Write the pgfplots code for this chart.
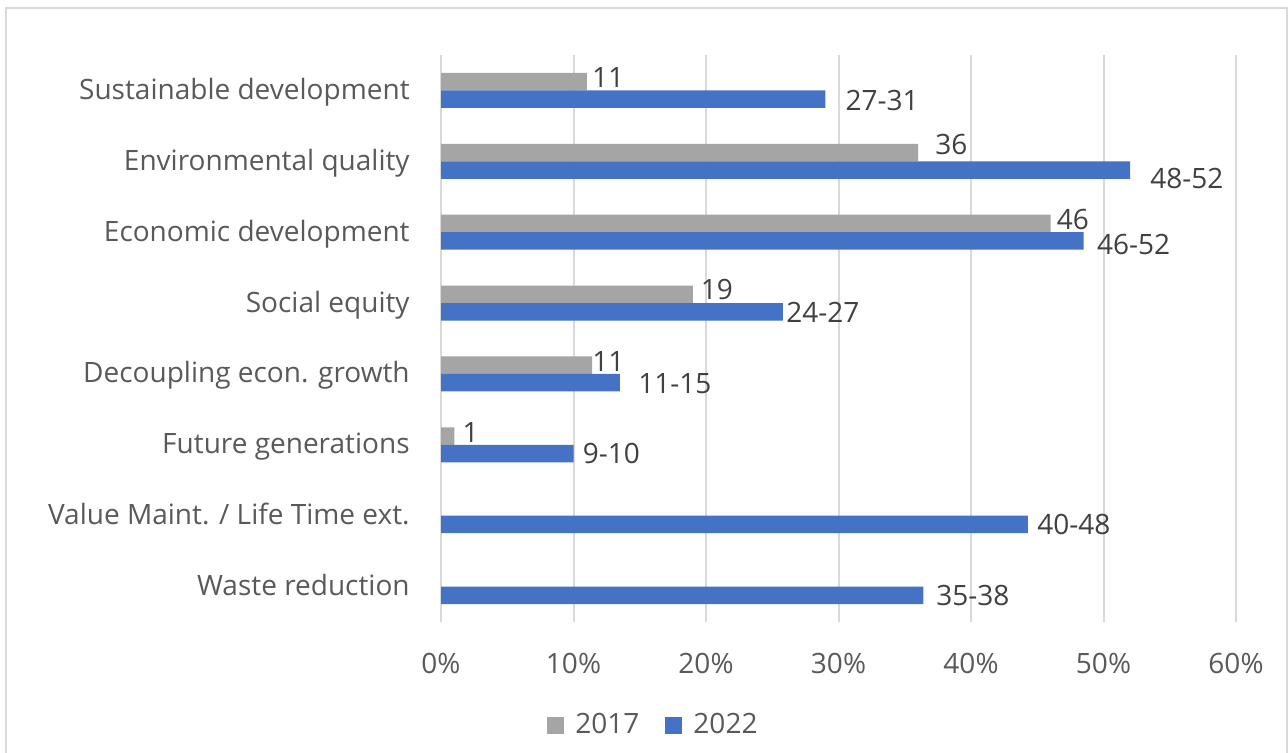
\documentclass[border=0pt]{standalone}
\usepackage{pgfplots}
\pgfplotsset{compat=1.18}
\usepackage{fontspec}
\setmainfont{Open Sans}
\definecolor{gbar}{HTML}{A5A5A5}
\definecolor{bbar}{HTML}{4472C4}
\definecolor{gridc}{HTML}{D9D9D9}
\definecolor{txt}{HTML}{595959}
\definecolor{labc}{HTML}{404040}
\newdimen\pxu \pxu=0.5pt
\protected\def\lab#1#2#3{\hspace*{#1\pxu}\raisebox{#2\pxu}[\height][\depth]{#3}}
\newcommand\cf{\fontsize{14}{17}\selectfont}
\begin{document}
\begin{tikzpicture}
\useasboundingbox (0,0) rectangle (644pt,376.5pt);
\draw[gridc, line width=1pt] (2.75pt,-5pt) rectangle (643.25pt,372.25pt);
\begin{axis}[
  at={(220.5pt,65.5pt)}, anchor=south west,
  scale only axis, width=397.5pt, height=283.5pt,
  xbar=0pt, bar width=8.75pt,
  xmin=0, xmax=60, ymin=-0.5, ymax=7.5, y dir=reverse,
  axis line style={draw=none},
  major tick length=0pt,
  xmajorgrids, major grid style={gridc, line width=1pt},
  xtick={0,10,...,60},
  xticklabels={0\%,10\%,20\%,30\%,40\%,50\%,60\%},
  xticklabel style={anchor=center, yshift=-20.5pt, font=\cf, text=txt},
  ytick={0,...,7},
  yticklabels={Sustainable development,Environmental quality,Economic development,Social equity,Decoupling econ. growth,Future generations,Value Maint. / Life Time ext.,Waste reduction},
  yticklabel style={anchor=base east, inner sep=0pt, xshift=-15.5pt, yshift=-4.5pt, font=\cf, text=txt},
  nodes near coords, point meta=explicit symbolic,
  every node near coord/.append style={anchor=west, inner sep=0pt, font=\cf, text=labc},
  legend columns=2,
  legend style={at={(axis description cs:0.266,-0.1817)}, anchor=center, draw=none, fill=none,
    font=\cf, text=txt, column sep=5.5pt, /tikz/every even column/.append style={column sep=13pt},
    nodes={inner sep=0pt}},
  legend image code/.code={\fill[#1] (0pt,-4.25pt) rectangle (8.5pt,4.25pt);},
]
\addplot[fill=gbar, draw=none, bar shift=4.375pt] coordinates {
  (11,0) [\lab{5}{4}{11}]
  (36,1) [\lab{17}{8}{36}]
  (46,2) [\lab{6}{4}{46}]
  (19,3) [\lab{7.7}{5}{19}]
  (11.4,4) [\lab{0}{4}{11}]
  (1,5) [\lab{8}{4}{1}]
};
\addplot[fill=bbar, draw=none, bar shift=-4.375pt] coordinates {
  (29,0) [\lab{20}{-1}{27-31}]
  (52,1) [\lab{20}{-8}{48-52}]
  (48.5,2) [\lab{13}{-4}{46-52}]
  (25.8,3) [\lab{3}{-1}{24-27}]
  (13.5,4) [\lab{18}{-1}{11-15}]
  (10,5) [\lab{9}{0}{9-10}]
  (44.3,6) [\lab{9}{0}{40-48}]
  (36.4,7) [\lab{12.6}{0}{35-38}]
};
\legend{2017,2022}
\end{axis}
\end{tikzpicture}
\end{document}
